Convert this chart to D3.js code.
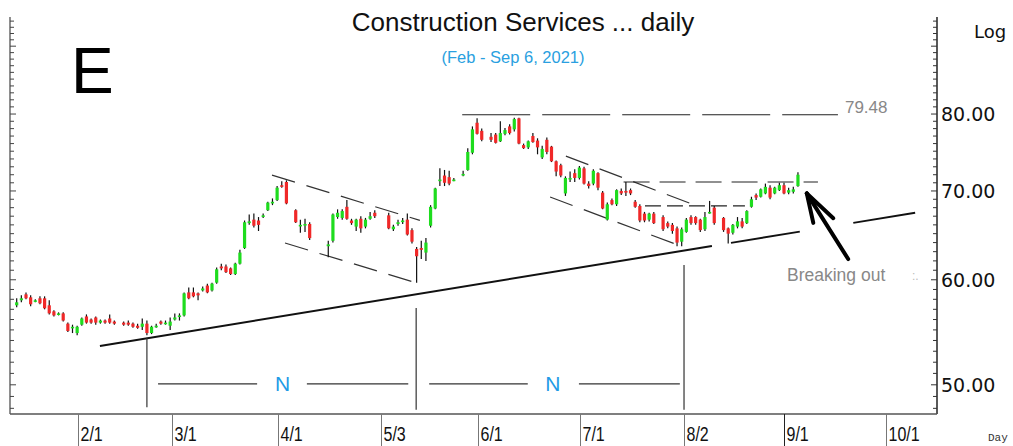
<!DOCTYPE html>
<html><head><meta charset="utf-8">
<script src="https://cdn.jsdelivr.net/npm/d3@7"></script>
<style>body{margin:0;background:#fff}svg{display:block}</style>
</head><body>
<script>
// ---- data (weekday slot index, null = no trading) ----
const opens = [57.4,57.9,58.5,58.2,57.8,58.1,58.1,57.4,56.8,56.5,56.6,55.6,55.2,54.7,55.5,56.3,56.0,56.2,55.7,55.9,56.1,55.8,null,
55.7,55.7,55.6,55.4,55.3,55.6,54.7,55.3,55.8,55.6,55.4,56.0,56.3,56.4,58.7,58.7,58.6,
58.9,59.4,58.9,59.7,61.4,61.4,61.2,60.6,61.7,63.4,66.2,66.6,66.5,67.0,67.7,68.5,68.9,70.7,71.1,null,
67.7,65.9,66.0,66.1,null,null,null,63.6,64.2,66.9,66.8,68.1,66.5,65.8,66.7,65.8,66.7,67.4,null,null,
67.1,65.5,66.1,66.4,66.6,65.4,63.3,63.4,62.9,65.9,67.9,71.2,71.9,71.7,71.3,null,
71.9,72.6,74.8,78.8,77.7,null,76.9,77.2,76.3,77.3,78.3,77.9,79.4,75.8,75.5,77.0,76.4,74.2,76.5,75.6,73.7,73.2,
69.7,71.4,72.2,71.6,72.8,70.9,70.9,72.2,69.8,66.6,68.9,68.4,70.0,70.0,70.1,68.7,68.2,67.3,66.6,67.3,null,
66.9,66.2,66.0,65.6,64.1,65.2,66.9,66.9,66.6,65.5,67.4,68.0,null,
66.8,65.6,65.1,65.8,66.4,66.2,68.1,69.5,69.3,69.7,70.4,69.7,70.1,70.7,69.8,69.9,70.6];
const highs = [58.1,58.4,58.7,58.4,58.0,58.3,58.3,57.9,56.9,56.7,56.7,55.7,55.5,55.4,56.2,56.5,56.1,56.3,56.0,56.0,56.5,55.9,null,
55.8,55.9,55.7,55.6,56.1,55.9,55.4,55.6,55.9,55.9,56.2,56.6,56.6,58.7,59.2,59.2,58.7,
59.3,59.6,59.7,61.3,61.7,61.6,61.3,61.8,63.2,66.5,67.2,67.3,66.9,67.3,68.7,69.1,70.6,71.2,71.3,null,
67.8,66.6,66.7,66.3,null,null,null,64.2,67.3,67.8,67.8,68.9,66.7,66.7,67.0,66.8,67.5,67.7,null,null,
67.4,66.0,66.6,66.8,67.3,65.6,63.5,64.2,64.5,68.3,70.4,72.8,72.6,72.5,71.6,null,
72.5,75.4,78.3,79.4,78.0,null,77.4,77.4,79.0,78.1,78.6,79.48,79.48,76.0,76.4,77.4,76.7,75.7,76.8,75.7,73.8,73.4,
71.8,72.4,72.7,73.1,73.0,71.2,72.7,72.3,70.0,68.6,69.1,70.2,70.3,71.1,70.3,68.9,68.4,67.5,67.4,67.5,null,
67.1,66.4,66.2,65.8,65.7,66.8,67.1,67.0,66.7,67.5,68.8,68.2,null,
66.9,65.7,66.1,66.9,66.8,67.7,69.3,69.7,70.3,70.9,70.7,70.5,71.0,71.0,70.4,70.5,72.3];
const lows = [57.2,57.7,58.0,57.3,57.7,57.5,57.0,56.5,56.3,56.4,55.8,54.8,54.7,54.5,55.4,55.6,55.6,55.5,55.6,55.6,55.6,55.5,null,
55.4,55.4,55.2,55.1,55.0,54.5,54.6,55.2,55.5,55.5,55.0,55.9,55.9,56.3,58.0,58.2,57.9,
58.8,58.6,58.8,59.6,61.0,60.7,60.5,60.5,61.6,63.3,66.0,65.7,65.3,66.8,67.6,68.3,68.8,70.4,68.4,null,
66.2,65.1,65.2,64.3,null,null,null,62.4,64.0,66.7,66.6,66.6,66.0,65.3,65.1,65.6,66.6,66.8,null,null,
65.5,65.3,65.9,66.1,64.8,63.9,59.7,62.2,62.0,65.7,67.8,70.6,70.6,70.7,71.2,null,
71.8,72.5,74.6,77.2,76.3,null,76.2,76.0,76.2,77.1,77.2,77.6,75.9,75.3,75.3,76.1,74.6,74.0,74.6,73.6,71.8,71.7,
69.4,71.1,71.1,71.4,70.8,70.3,70.7,70.1,67.8,66.5,68.3,68.2,69.5,69.4,69.5,68.0,66.3,66.3,66.4,66.1,null,
65.3,65.6,65.0,63.6,63.6,65.1,66.0,66.0,65.2,65.3,67.3,66.0,null,
65.2,63.9,64.9,65.6,65.6,66.1,68.0,68.9,69.2,69.6,69.0,69.6,70.0,69.6,69.6,69.7,70.5];
const closes = [57.7,58.1,58.1,57.5,57.9,57.6,57.1,56.6,56.4,56.6,55.9,54.9,55.3,55.3,56.1,55.7,55.7,55.7,55.9,55.7,55.7,55.6,null,
55.5,55.5,55.3,55.2,55.6,54.7,55.3,55.4,55.6,55.7,55.8,56.2,56.4,58.6,58.1,58.3,58.4,
59.1,58.7,59.6,61.1,61.2,60.8,60.6,61.7,62.9,66.3,66.4,65.9,66.0,67.1,68.6,68.7,70.4,70.5,68.5,null,
66.3,66.0,66.1,64.5,null,null,null,63.8,67.2,67.4,67.6,66.7,66.2,66.6,65.6,66.6,67.0,67.0,null,null,
65.6,65.8,66.3,66.5,64.9,64.1,62.5,63.2,64.0,68.1,70.3,71.4,71.0,70.9,71.4,null,
72.1,74.9,77.9,77.3,76.5,null,76.5,76.1,77.4,77.8,77.4,79.3,76.0,75.4,76.3,76.2,75.5,75.3,74.9,73.7,72.4,71.9,
71.6,71.6,71.6,72.9,70.9,70.6,72.5,70.4,67.9,68.4,68.4,70.1,69.7,69.8,69.7,68.1,66.5,66.5,67.3,66.2,null,
65.5,65.8,65.3,64.0,65.5,66.6,66.2,66.2,65.4,66.9,67.5,66.2,null,
65.4,65.0,66.0,66.4,65.8,67.6,69.0,69.2,70.2,70.5,69.2,70.4,70.7,69.7,70.1,70.2,72.0];

const monthLabels = ["2/1","3/1","4/1","5/3","6/1","7/1","8/2","9/1","10/1"];
const monthSlots  = [13.2, 33.4, 56.2, 78.3, 99.2, 121.1, 143.5, 165.0, 186.9];
const yTickValues = [50, 60, 70, 80];
const resistanceLevel = 79.48;

// annotation geometry in (slot, price) units
const trendLine = {s0:17.9, p0:53.48, s1:193.2, p1:67.40};
const trendSegments = [[17.9,149.5],[153.6,168.4],[179.9,193.2]];
const channels = [
  [{s:54.9,p:71.96},{s:86.7,p:66.51}],
  [{s:57.7,p:63.95},{s:86.1,p:59.66}],
  [{s:118.1,p:74.37},{s:146.3,p:68.2}],
  [{s:114.7,p:69.27},{s:142.2,p:63.73}]
];
const hLevels = [
  {p:79.9, s0:95.8, s1:176.6, dash:"68,12"},
  {p:71.1, s0:130.5, s1:172.3, dash:"26,10"},
  {p:68.2, s0:135.1, s1:156.6, dash:"16,6"}
];
const vLines = [{s:28.0,pTop:54.25,pBot:48.09},{s:85.9,pTop:57.13,pBot:47.88},{s:143.5,pTop:61.55,pBot:47.88}];
const nLevel = 50.08;
const nSegments = [[30.4,51.7],[62.4,84.2],[88.7,109.9],[120.9,142.6]];
const nLabels = [57.2, 115.3];
const arrowPts = {tip:{s:169.9,p:69.71}, tail:{s:178.8,p:62.2}, b1:{s:171.3,p:66.23}, b2:{s:175.6,p:66.77}};

// ---- drawing ----
const W=1013, H=446;
const L=10, R=937, T=0, B=414;
const svg = d3.select("body").append("svg").attr("width",W).attr("height",H);

const x = d3.scaleLinear().domain([-1.44, 197.9]).range([L, R]);
const y = d3.scaleLog().domain([47.53, 97.51]).range([B, T]);

// axes frame
svg.append("line").attr("x1",L).attr("x2",L).attr("y1",17).attr("y2",B).attr("stroke","#444").attr("stroke-width",1.2);
svg.append("line").attr("x1",R).attr("x2",R).attr("y1",17).attr("y2",B).attr("stroke","#222").attr("stroke-width",1.5);
svg.append("line").attr("x1",L).attr("x2",R).attr("y1",B).attr("y2",B).attr("stroke","#555").attr("stroke-width",1.5);

const minor = d3.range(48, 98);
minor.forEach(v=>{
  const yy = y(v);
  if (yy < 17 || yy > B) return;
  const len = v%10===0 ? 6 : 4;
  svg.append("line").attr("x1",R-len).attr("x2",R).attr("y1",yy).attr("y2",yy).attr("stroke","#333");
  svg.append("line").attr("x1",L).attr("x2",L+len).attr("y1",yy).attr("y2",yy).attr("stroke","#444");
});
yTickValues.forEach(v=>{
  svg.append("text").attr("x",R+4).attr("y",y(v)).attr("dy","0.36em")
    .attr("font-family","DejaVu Sans").attr("font-size",19).attr("fill","#111").text(d3.format(".2f")(v));
});
svg.append("text").attr("x",974).attr("y",38).attr("font-family","DejaVu Sans").attr("font-size",18).attr("fill","#111").text("Log");

// month separators
monthSlots.forEach((s,i)=>{
  const xx = Math.round(x(s))+0.5;
  svg.append("line").attr("x1",xx).attr("x2",xx).attr("y1",B).attr("y2",H).attr("stroke", i===7?"#222":"#777").attr("stroke-width",1);
  svg.append("text").attr("transform",`translate(${xx+2},441) scale(0.8,1)`)
    .attr("font-family","Liberation Sans").attr("font-size",20).attr("fill","#111").text(monthLabels[i]);
});
svg.append("text").attr("x",988).attr("y",441).attr("font-family","Liberation Mono").attr("font-size",11).attr("fill","#333").text("Day");

// trend line segments
const tY = s => y(trendLine.p0) + (y(trendLine.p1)-y(trendLine.p0))*(s-trendLine.s0)/(trendLine.s1-trendLine.s0);
trendSegments.forEach(([a,b])=>{
  svg.append("line").attr("x1",x(a)).attr("y1",tY(a)).attr("x2",x(b)).attr("y2",tY(b))
    .attr("stroke","#111").attr("stroke-width",2);
});
// channels
channels.forEach(c=>{
  svg.append("line").attr("x1",x(c[0].s)).attr("y1",y(c[0].p)).attr("x2",x(c[1].s)).attr("y2",y(c[1].p))
    .attr("stroke","#333").attr("stroke-width",1.2).attr("stroke-dasharray","24,12");
});
// horizontal levels
hLevels.forEach(h=>{
  svg.append("line").attr("x1",x(h.s0)).attr("x2",x(h.s1)).attr("y1",y(h.p)).attr("y2",y(h.p))
    .attr("stroke","#222").attr("stroke-width",1.2).attr("stroke-dasharray",h.dash);
});
svg.append("text").attr("x",x(hLevels[0].s1)+7).attr("y",y(hLevels[0].p)-2)
  .attr("font-family","Liberation Sans").attr("font-size",17).attr("fill","#888").text(d3.format(".2f")(resistanceLevel));

// vertical lines
vLines.forEach(v=>{
  svg.append("line").attr("x1",x(v.s)).attr("x2",x(v.s)).attr("y1",y(v.pTop)).attr("y2",y(v.pBot))
    .attr("stroke","#333").attr("stroke-width",1.2);
});
// N segments
nSegments.forEach(([a,b])=>{
  svg.append("line").attr("x1",x(a)).attr("x2",x(b)).attr("y1",y(nLevel)).attr("y2",y(nLevel)).attr("stroke","#333").attr("stroke-width",1.2);
});
nLabels.forEach(s=>{
  svg.append("text").attr("x",x(s)).attr("y",y(nLevel)).attr("dy","0.36em").attr("text-anchor","middle")
    .attr("font-family","Liberation Sans").attr("font-size",21).attr("fill","#1e9be6").text("N");
});

// candles
const data = opens.map((o,i)=> o==null?null:{i, o, h:highs[i], l:lows[i], c:closes[i]}).filter(d=>d);
const g = svg.append("g");
g.selectAll("line.w").data(data).join("line")
  .attr("x1",d=>x(d.i)).attr("x2",d=>x(d.i)).attr("y1",d=>y(d.h)).attr("y2",d=>y(d.l))
  .attr("stroke","#111").attr("stroke-width",1.2);
g.selectAll("rect").data(data).join("rect")
  .attr("x",d=>x(d.i)-1.6).attr("width",3.2)
  .attr("y",d=>y(Math.max(d.o,d.c)))
  .attr("height",d=>Math.max(1.6, y(Math.min(d.o,d.c))-y(Math.max(d.o,d.c))))
  .attr("fill",d=>d.c>=d.o?"#1edc1e":"#f02828");

// arrow
const A = arrowPts;
[[A.tail,A.tip],[A.tip,A.b1],[A.tip,A.b2]].forEach(([p,q])=>{
  svg.append("line").attr("x1",x(p.s)).attr("y1",y(p.p)).attr("x2",x(q.s)).attr("y2",y(q.p))
    .attr("stroke","#000").attr("stroke-width",4).attr("stroke-linecap","round");
});
svg.append("text").attr("x",787).attr("y",281).attr("font-family","Liberation Sans").attr("font-size",17.5).attr("fill","#888").text("Breaking out");
svg.append("text").attr("x",912).attr("y",280).attr("font-family","Liberation Sans").attr("font-size",12).attr("fill","#bbb").text(":.");

// titles
svg.append("text").attr("x",523).attr("y",31).attr("text-anchor","middle").attr("font-family","Liberation Sans").attr("font-size",26).attr("fill","#111").text("Construction Services ... daily");
svg.append("text").attr("x",513).attr("y",63).attr("text-anchor","middle").attr("font-family","Liberation Sans").attr("font-size",16.5).attr("fill","#2a9fe0").text("(Feb - Sep 6, 2021)");
svg.append("text").attr("x",71).attr("y",93).attr("font-family","Liberation Sans").attr("font-size",64).attr("fill","#000").text("E");
</script>
</body></html>
